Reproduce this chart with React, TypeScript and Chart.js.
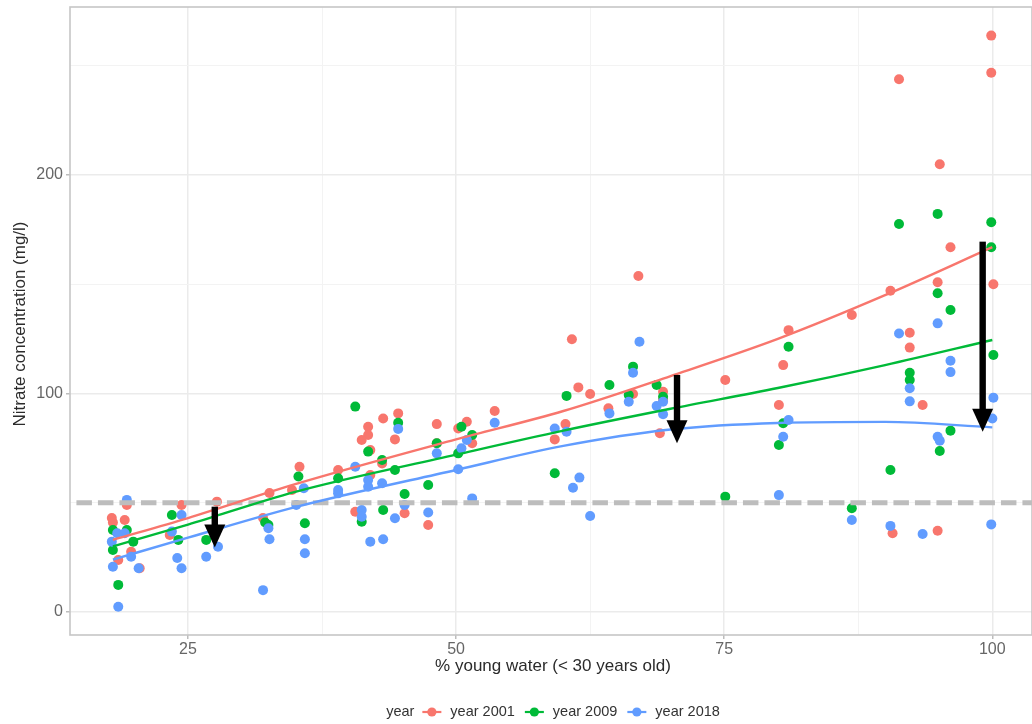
import React, { useEffect, useRef } from "react";
import { Chart, registerables } from "chart.js";

Chart.register(...registerables);

// ---- data ----
const seriesNames = ["year 2001", "year 2009", "year 2018"];
const seriesColors = ["#F8766D", "#00BA38", "#619CFF"];

const points2001: [number, number][] = [
  [17.9, 43], [18.0, 41], [19.1, 42.1], [19.3, 49], [19.7, 27.6], [18.5, 23.8], [20.5, 20],
  [24.4, 49], [23.3, 35.2], [27.7, 50.5], [32.6, 54.5], [32, 43], [35.4, 66.5], [34.7, 55.8],
  [39, 65], [41.8, 84.8], [41.8, 81], [41.2, 78.7], [43.2, 88.6], [44.6, 90.9], [44.3, 79],
  [42, 74.1], [43.1, 68], [42, 62.7], [40.6, 45.9], [45.2, 45.2], [47.4, 39.8], [48.2, 86],
  [48.2, 77.2], [50.2, 84], [51, 87.1], [51.5, 77.2], [53.6, 92], [59.2, 79], [60.8, 124.8],
  [61.4, 102.8], [62.5, 99.8], [60.2, 86], [64.2, 93.2], [66.5, 99.8], [67, 153.8], [69.3, 100.8],
  [69.3, 97], [69, 81.8], [75.1, 106.2], [80.1, 94.7], [80.5, 113], [81, 129], [86.9, 135.9],
  [90.5, 147], [91.3, 243.8], [92.3, 127.8], [92.3, 121], [93.5, 94.7], [90.7, 36], [94.9, 37.2],
  [94.9, 150.9], [95.1, 204.9], [96.1, 166.9], [99.9, 263.8], [99.9, 246.8], [100.1, 150],
];

const points2009: [number, number][] = [
  [18, 37.5], [18, 28.4], [18.5, 12.4], [19.3, 37.5], [19.9, 32.2], [23.5, 44.4], [24.1, 33],
  [26.7, 33], [32.5, 39.8], [32.2, 41], [35.3, 62], [35.9, 40.6], [39, 61.2], [40.6, 94],
  [41.8, 73.4], [43.1, 69.6], [44.3, 65], [44.6, 86.6], [41.2, 41.3], [43.2, 46.7], [45.2, 54],
  [47.4, 58.1], [48.2, 77.2], [50.5, 84.8], [50.2, 72.6], [51.5, 81], [59.2, 63.5], [60.3, 98.9],
  [64.3, 103.9], [66.1, 99.3], [66.5, 112.3], [68.7, 103.9], [69.3, 98.5], [75.1, 52.8],
  [80.1, 76.4], [80.5, 86.4], [81, 121.4], [86.9, 47.5], [90.5, 65], [91.3, 177.6], [92.3, 109.5],
  [92.3, 106.2], [94.9, 182.2], [94.9, 145.9], [95.1, 73.7], [96.1, 138.2], [96.1, 83],
  [99.9, 178.4], [99.9, 166.9], [100.1, 117.6],
];

const points2018: [number, number][] = [
  [19.3, 51.3], [18.4, 36], [19.1, 36], [17.9, 32.2], [19.7, 25.3], [18, 20.7], [20.4, 20],
  [18.5, 2.4], [24.4, 44.4], [23.5, 36.8], [24, 24.7], [24.4, 20], [26.7, 25.3], [27.8, 29.9],
  [32.5, 38.3], [32.6, 33.3], [32, 10], [35.1, 49], [35.9, 33.3], [35.9, 26.9], [35.8, 56.6],
  [39, 55.8], [39, 54.3], [40.6, 66.5], [41.8, 60.4], [41.8, 57.3], [43.1, 58.9], [41.2, 46.7],
  [41.2, 43.6], [42, 32.2], [43.2, 33.3], [44.3, 42.9], [44.6, 83.8], [45.2, 49], [47.4, 45.5],
  [48.2, 72.6], [50.2, 65.3], [50.5, 74.9], [51, 78.7], [51.5, 52], [53.6, 86.6], [59.2, 84],
  [60.3, 82.5], [60.9, 56.9], [61.5, 61.5], [62.5, 43.9], [64.3, 90.9], [66.1, 96.2],
  [66.5, 109.5], [67.1, 123.7], [68.7, 94.3], [69.3, 96.2], [69.3, 90.5], [80.1, 53.5],
  [80.5, 80.2], [81, 87.9], [86.9, 42.1], [90.5, 39.4], [91.3, 127.5], [92.3, 102.4],
  [92.3, 96.4], [93.5, 35.7], [94.9, 132.1], [94.9, 80.2], [95.1, 78.4], [96.1, 115],
  [96.1, 109.8], [99.9, 40.1], [100.1, 98.1], [100, 88.6],
];

// smoothed trend
const curveX = [18, 25, 35, 50, 60, 70, 80, 90, 100];
const curve2001 = [33, 43, 58.5, 79, 92, 108, 125, 145, 167];
const curve2009 = [30, 40, 55, 72, 83, 93, 102.5, 113, 124.5];
const curve2018 = [24, 34, 48, 65, 76, 83.5, 86.5, 87, 84.5];

// reference line and arrows
const thresholdY = 50;
const arrowX = [27.5, 70.6, 99.1];
const arrowFrom = [48.2, 108.5, 169.5];
const arrowTo = [29.5, 77.2, 82.5];

// axes
const xRange = [14, 103.7];
const yRange = [-10.53, 276.9];
const xMajorTicks = [25, 50, 75, 100];
const xMinorTicks = [37.5, 62.5, 87.5];
const yMajorTicks = [0, 100, 200];
const yMinorTicks = [50, 150, 250];
const xTitle = "% young water (< 30 years old)";
const yTitle = "Nitrate concentration (mg/l)";
const legendTitle = "year";

const FONT = "'Liberation Sans', Arial, sans-serif";

const toXY = (pts: [number, number][]) => pts.map(([x, y]) => ({ x, y }));
const curveData = (ys: number[]) => curveX.map((x, i) => ({ x, y: ys[i] }));

export default function App() {
  const canvasRef = useRef<HTMLCanvasElement | null>(null);

  useEffect(() => {
    const canvas = canvasRef.current;
    if (!canvas) return;

    const decor = {
      id: "decor",
      beforeDatasetsDraw(chart: any) {
        const { ctx, chartArea: a } = chart;
        ctx.save();
        ctx.strokeStyle = "#C6C6C6";
        ctx.lineWidth = 1.6;
        ctx.strokeRect(a.left, a.top, a.right - a.left, a.bottom - a.top);
        ctx.restore();
      },
      afterDatasetsDraw(chart: any) {
        const { ctx } = chart;
        const xs = chart.scales.x;
        const ys = chart.scales.y;
        ctx.save();
        ctx.fillStyle = "#000";
        for (let i = 0; i < arrowX.length; i++) {
          const px = xs.getPixelForValue(arrowX[i]);
          const y0 = ys.getPixelForValue(arrowFrom[i]);
          const y1 = ys.getPixelForValue(arrowTo[i]);
          const headLen = 23;
          const headHalf = 10.5;
          const shaftHalf = 3.2;
          ctx.fillRect(px - shaftHalf, y0, shaftHalf * 2, y1 - headLen - y0 + 1);
          ctx.beginPath();
          ctx.moveTo(px - headHalf, y1 - headLen);
          ctx.lineTo(px + headHalf, y1 - headLen);
          ctx.lineTo(px, y1);
          ctx.closePath();
          ctx.fill();
        }
        ctx.restore();
      },
      afterDraw(chart: any) {
        const { ctx } = chart;
        ctx.save();
        // axis titles
        ctx.fillStyle = "#2b2b2b";
        ctx.font = `17px ${FONT}`;
        ctx.textAlign = "center";
        ctx.textBaseline = "middle";
        ctx.fillText(xTitle, 553, 666);
        ctx.save();
        ctx.translate(20, 324);
        ctx.rotate(-Math.PI / 2);
        ctx.fillText(yTitle, 0, 0);
        ctx.restore();

        // legend
        ctx.font = `14.5px ${FONT}`;
        ctx.textAlign = "left";
        const ly = 712;
        const keyW = 19;
        const gTitle = 8, gKey = 9, gItem = 10;
        const wTitle = ctx.measureText(legendTitle).width;
        const wLabels = seriesNames.map((n) => ctx.measureText(n).width);
        let total = wTitle;
        wLabels.forEach((w, i) => (total += (i === 0 ? gTitle : gItem) + keyW + gKey + w));
        let x = 553 - total / 2;
        ctx.fillStyle = "#333";
        ctx.fillText(legendTitle, x, ly);
        x += wTitle + gTitle;
        seriesNames.forEach((n, i) => {
          if (i > 0) x += gItem - gTitle;
          const c = seriesColors[i];
          ctx.strokeStyle = c;
          ctx.lineWidth = 2.2;
          ctx.beginPath();
          ctx.moveTo(x, ly);
          ctx.lineTo(x + keyW, ly);
          ctx.stroke();
          ctx.fillStyle = c;
          ctx.beginPath();
          ctx.arc(x + keyW / 2, ly, 4.6, 0, Math.PI * 2);
          ctx.fill();
          x += keyW + gKey;
          ctx.fillStyle = "#333";
          ctx.fillText(n, x, ly);
          x += wLabels[i] + gTitle;
        });
        ctx.restore();
      },
    };

    const pointSet = (pts: [number, number][], i: number, order: number) => ({
      type: "scatter",
      label: seriesNames[i],
      data: toXY(pts),
      backgroundColor: seriesColors[i],
      borderColor: seriesColors[i],
      pointRadius: 5,
      pointBorderWidth: 0,
      showLine: false,
      order,
    });
    const curveSet = (ys: number[], i: number, order: number) => ({
      type: "line",
      label: seriesNames[i] + " trend",
      data: curveData(ys),
      borderColor: seriesColors[i],
      backgroundColor: seriesColors[i],
      borderWidth: 2.4,
      pointRadius: 0,
      cubicInterpolationMode: "monotone",
      fill: false,
      order,
    });

    const chart = new Chart(canvas, {
      type: "scatter",
      data: {
        datasets: [
          curveSet(curve2001, 0, 0),
          curveSet(curve2009, 1, 1),
          curveSet(curve2018, 2, 2),
          {
            type: "line",
            label: "threshold",
            data: [
              { x: xRange[0] + 0.6, y: thresholdY },
              { x: xRange[1], y: thresholdY },
            ],
            borderColor: "#BDBDBD",
            borderWidth: 5,
            borderDash: [15.5, 6],
            pointRadius: 0,
            fill: false,
            order: 3,
          } as any,
          pointSet(points2018, 2, 4),
          pointSet(points2009, 1, 5),
          pointSet(points2001, 0, 6),
        ] as any,
      },
      options: {
        responsive: false,
        animation: false,
        devicePixelRatio: 1,
        layout: { autoPadding: false, padding: { top: 7, right: 0, bottom: 0, left: 0 } },
        plugins: {
          legend: { display: false },
          tooltip: { enabled: false },
        },
        scales: {
          x: {
            type: "linear",
            min: xRange[0],
            max: xRange[1],
            afterFit: (s: any) => {
              s.height = 89;
              s.paddingLeft = 0;
              s.paddingRight = 0;
            },
            afterBuildTicks: (s: any) => {
              s.ticks = [...xMajorTicks, ...xMinorTicks].sort((a, b) => a - b).map((v) => ({ value: v }));
            },
            border: { display: false },
            grid: {
              color: (c: any) => (xMajorTicks.includes(c.tick?.value) ? "#EBEBEB" : "#F3F3F3"),
              lineWidth: (c: any) => (xMajorTicks.includes(c.tick?.value) ? 1.5 : 1),
              tickLength: 4,
              tickColor: (c: any) => (xMajorTicks.includes(c.tick?.value) ? "#BDBDBD" : "rgba(0,0,0,0)"),
            },
            ticks: {
              padding: 1,
              autoSkip: false,
              maxRotation: 0,
              color: "#666",
              font: { family: FONT, size: 16 },
              callback: (v: any) => (xMajorTicks.includes(Number(v)) ? String(v) : ""),
            },
          },
          y: {
            type: "linear",
            min: yRange[0],
            max: yRange[1],
            afterFit: (s: any) => {
              s.width = 70;
              s.paddingTop = 0;
              s.paddingBottom = 0;
            },
            afterBuildTicks: (s: any) => {
              s.ticks = [...yMajorTicks, ...yMinorTicks].sort((a, b) => a - b).map((v) => ({ value: v }));
            },
            border: { display: false },
            grid: {
              color: (c: any) => (yMajorTicks.includes(c.tick?.value) ? "#EBEBEB" : "#F3F3F3"),
              lineWidth: (c: any) => (yMajorTicks.includes(c.tick?.value) ? 1.5 : 1),
              tickLength: 4,
              tickColor: (c: any) => (yMajorTicks.includes(c.tick?.value) ? "#BDBDBD" : "rgba(0,0,0,0)"),
            },
            ticks: {
              padding: 3,
              autoSkip: false,
              color: "#666",
              font: { family: FONT, size: 16 },
              callback: (v: any) => (yMajorTicks.includes(Number(v)) ? String(v) : ""),
            },
          },
        },
      } as any,
      plugins: [decor],
    });

    return () => chart.destroy();
  }, []);

  return (
    <div
      style={{
        position: "fixed",
        left: 0,
        top: 0,
        width: 1032,
        height: 724,
        background: "#fff",
      }}
    >
      <canvas ref={canvasRef} width={1032} height={724} style={{ width: 1032, height: 724, display: "block" }} />
    </div>
  );
}
